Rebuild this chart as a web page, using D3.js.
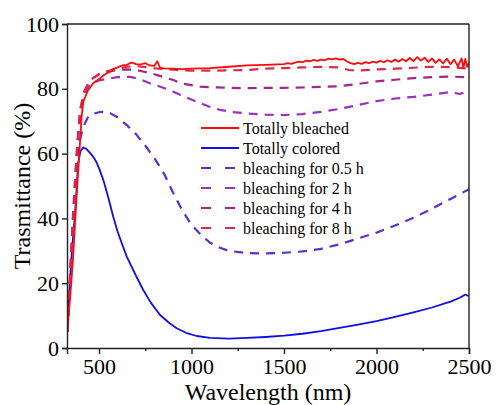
<!DOCTYPE html>
<html>
<head>
<meta charset="utf-8">
<script src="https://cdn.jsdelivr.net/npm/d3@7"></script>
<style>
  body { margin: 0; background: #fff; }
  svg text { font-family: "Liberation Serif", "Times New Roman", Times, "DejaVu Serif", serif; }
</style>
</head>
<body>
<div id="chart-area"></div>
<script>
// transmittance spectra, values ([wavelength nm, T %])
var bleached = [[330,6],[340,13],[350,20],[360,28],[370,38],[380,48],[390,57],[400,66],[406,71.4],[415,76],
  [440,79.5],[469,81.7],[500,83],[525,84.2],[545,84.9],[560,85.3],[575,86.1],[600,86.6],[625,87.2],[650,87.4],
  [675,88.1],[686,87.9],[700,87.6],[725,87.5],[750,87.9],[775,87.2],[800,87.1],[815,88.5],[830,86.5],[850,86.3],
  [900,86.2],[950,86.1],[1000,86.2],[1100,86.4],[1200,86.8],[1300,87.2],[1400,87.4],[1500,87.6],[1520,87.9],
  [1540,87.7],[1560,88.1],[1580,88.4],[1600,88.2],[1620,88.7],[1640,88.5],[1660,88.9],[1680,88.6],[1700,89],
  [1720,88.8],[1740,89.3],[1760,89.1],[1780,89.4],[1800,89],[1820,89.2],[1840,88.5],[1860,87.9],[1880,87.6],
  [1900,88],[1920,87.7],[1940,88.2],[1960,87.9],[1980,88.4],[2000,88.1],[2020,88.6],[2040,88.2],[2060,88.8],
  [2080,88.3],[2100,89],[2120,88.4],[2140,89.2],[2160,88.5],[2180,89.5],[2200,88.6],[2220,89.8],[2240,88.7],
  [2260,89.6],[2280,88.3],[2300,89.4],[2320,88],[2340,89.1],[2360,87.8],[2380,89.3],[2400,87.6],[2420,89],
  [2440,86.9],[2460,89.4],[2470,86.5],[2480,89.2],[2490,86.8],[2500,88]];

var colored = [[330,6.5],[342,20],[355,31],[369,40.5],[380,50],[387,57],[400,60.8],[415,61.9],[430,61.5],
  [450,60.3],[469,59],[485,57.5],[500,55.5],[523,51.9],[550,46.5],[577,40.5],[600,36],[625,32],[650,28.2],
  [700,22.3],[739,17.9],[780,14],[830,10.2],[880,7.7],[920,6.1],[970,4.7],[1028,3.7],[1100,3.1],[1200,2.9],
  [1300,3.1],[1400,3.4],[1500,3.8],[1600,4.4],[1700,5.2],[1800,6.2],[1900,7.2],[2000,8.3],[2100,9.6],
  [2200,11],[2300,12.5],[2400,14.3],[2450,15.5],[2480,16.5],[2500,16]];

var bleach05 = [[330,5],[340,18],[350,30],[360,40],[370,48],[380,55],[390,61],[400,65],[415,68.3],[442,71.4],
  [470,72.3],[510,72.9],[560,72.5],[600,71.2],[650,68.8],[700,66],[750,62.5],[800,58.5],[850,54],[900,48],
  [950,42.5],[1000,38],[1050,35],[1100,32.5],[1150,31],[1200,30],[1300,29.3],[1400,29.2],[1500,29.4],
  [1600,29.8],[1700,30.6],[1800,32],[1900,33.8],[2000,35.6],[2100,37.8],[2200,40.2],[2300,43],[2400,46],
  [2450,47.5],[2500,49]];

var bleach2 = [[330,5],[340,18],[350,30],[360,42],[370,52],[380,61],[390,68],[400,73],[420,78],[440,80.5],
  [460,81.8],[500,82.6],[559,83.2],[600,83.6],[667,83.7],[720,83],[775,81.7],[840,80.5],[902,79.1],[960,77.6],
  [1028,76],[1090,74.6],[1154,73.5],[1220,72.8],[1300,72.4],[1400,72],[1500,71.9],[1600,72.2],[1700,72.9],
  [1800,73.8],[1900,75],[2000,76.2],[2100,77],[2200,77.5],[2300,78.2],[2400,79],[2450,78.4],[2500,79.3]];

var bleach4 = [[330,5],[340,17],[350,28],[360,39],[370,50],[380,60],[390,68],[400,74],[420,79],[440,81.5],
  [460,83],[500,84.5],[550,85.3],[600,85.8],[650,86],[700,85.8],[750,85.2],[800,84.5],[850,83.6],[902,82.7],
  [950,81.6],[1046,80.7],[1100,80.5],[1200,80.3],[1300,80.2],[1400,80.3],[1500,80.3],[1600,80.4],[1700,80.6],
  [1800,80.8],[1900,81.5],[2000,82.3],[2100,82.8],[2200,83.3],[2300,83.6],[2400,83.8],[2500,83.5]];

var bleach8 = [[330,5],[340,16],[350,27],[360,38],[370,49],[380,59],[390,67],[400,74],[420,79],[440,81.5],
  [460,83],[500,84.5],[550,85.5],[600,86.2],[650,86.8],[700,87],[750,86.7],[800,86.3],[920,85.8],[1000,85.6],
  [1100,85.6],[1200,85.7],[1300,85.8],[1400,86.2],[1500,86.4],[1600,86.6],[1700,86.8],[1800,86.6],[1850,85.8],
  [1900,85.6],[2000,86],[2100,86.2],[2200,86.5],[2300,86.8],[2400,86.7],[2500,86.2]];

var seriesNames = ["Totally bleached", "Totally colored", "bleaching for 0.5 h",
                   "bleaching for 2 h", "bleaching for 4 h", "bleaching for 8 h"];
var seriesData = [bleached, colored, bleach05, bleach2, bleach4, bleach8];
var seriesColors = ["#ff0a0a", "#1010e6", "#5b2fc9", "#9a32c0", "#a3248a", "#dc2a4a"];
var seriesDashed = [false, false, true, true, true, true];

var xTicks = [500, 1000, 1500, 2000, 2500];
var xMinor = [750, 1250, 1750, 2250];
var yTicks = [0, 20, 40, 60, 80, 100];

var margin = { left: 67, right: 27, top: 24, bottom: 57 };
var width = 496 - margin.left - margin.right;
var height = 405 - margin.top - margin.bottom;

var svg = d3.select("#chart-area")
  .append("svg")
    .attr("width", 496)
    .attr("height", 405);
var g = svg.append("g")
    .attr("transform", "translate(" + margin.left + "," + margin.top + ")");

// scales
var x = d3.scaleLinear().domain([327, 2500]).range([0, width]);
var y = d3.scaleLinear().domain([0, 100]).range([height, 0]);

var line = d3.line()
  .x(function(d){ return x(d[0]); })
  .y(function(d){ return y(d[1]); });

// curves (colored + dashed first, bleached on top)
var order = [1, 2, 3, 4, 5, 0];
g.append("defs").append("clipPath").attr("id", "clip")
  .append("rect").attr("width", width).attr("height", height);
var curves = g.append("g").attr("clip-path", "url(#clip)");
order.forEach(function(i){
  curves.append("path")
    .datum(seriesData[i])
    .attr("fill", "none")
    .attr("stroke", seriesColors[i])
    .attr("stroke-width", seriesDashed[i] ? 2.2 : 1.8)
    .attr("stroke-dasharray", seriesDashed[i] ? "9,7" : null)
    .attr("stroke-linejoin", "round")
    .attr("d", line);
});

// axes
g.append("g")
  .attr("class", "axis")
  .attr("transform", "translate(0," + height + ")")
  .call(d3.axisBottom(x).tickValues(xTicks).tickSize(6).tickPadding(4).tickFormat(d3.format("d")));
g.append("g")
  .attr("class", "axis")
  .attr("transform", "translate(0," + height + ")")
  .call(d3.axisBottom(x).tickValues(xMinor).tickSize(3).tickFormat(""))
  .select(".domain").remove();
g.append("g")
  .attr("class", "axis")
  .call(d3.axisLeft(y).tickValues(yTicks).tickSize(5).tickPadding(3));

g.selectAll(".axis").attr("font-family", null).attr("font-size", null);
g.selectAll(".tick text")
  .style("font-size", "22px")
  .attr("fill", "#000");
g.selectAll(".domain, .tick line").attr("stroke", "#222").attr("stroke-width", 1.4);

// frame top/right
g.append("line").attr("x1", 0).attr("x2", width).attr("y1", 0).attr("y2", 0)
  .attr("stroke", "#222").attr("stroke-width", 1.4);
g.append("line").attr("x1", width).attr("x2", width).attr("y1", 0).attr("y2", height)
  .attr("stroke", "#222").attr("stroke-width", 1.4);

// labels
svg.append("text")
  .attr("x", 268).attr("y", 400)
  .attr("text-anchor", "middle")
  .style("font-size", "24px")
  .text("Wavelength (nm)");
svg.append("text")
  .attr("transform", "translate(30,186) rotate(-90)")
  .attr("text-anchor", "middle")
  .style("font-size", "24px")
  .text("Trasmittance (%)");

// legend
var legend = svg.append("g").attr("transform", "translate(200,128)");
seriesNames.forEach(function(name, i){
  var row = legend.append("g").attr("transform", "translate(0," + (i * 20) + ")");
  row.append("line")
    .attr("x1", 1).attr("x2", 39).attr("y1", 0).attr("y2", 0)
    .attr("stroke", seriesColors[i])
    .attr("stroke-width", seriesDashed[i] ? 2.2 : 1.8)
    .attr("stroke-dasharray", seriesDashed[i] ? "10,14" : null);
  row.append("text")
    .attr("x", 43).attr("y", 5.5)
    .style("font-size", "16px")
    .text(name);
});
</script>
</body>
</html>
